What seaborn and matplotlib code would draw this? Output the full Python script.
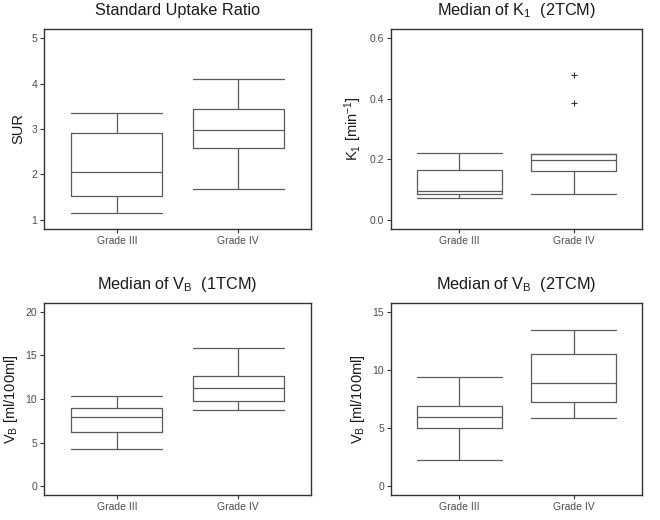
import numpy as np
import pandas as pd
import matplotlib
matplotlib.use("Agg")
import matplotlib.pyplot as plt
import seaborn as sns

sns.set_theme(style="white")
plt.rcParams["font.family"] = ["Liberation Sans", "DejaVu Sans"]
plt.rcParams["mathtext.fontset"] = "custom"
plt.rcParams["mathtext.rm"] = "Liberation Sans"
plt.rcParams["mathtext.it"] = "Liberation Sans"
plt.rcParams["mathtext.default"] = "regular"

grades = ["Grade III", "Grade IV"]

# five-number summaries [min, q1, median, q3, max]
sur_g3 = [1.15, 1.52, 2.06, 2.92, 3.35]
sur_g4 = [1.69, 2.59, 2.98, 3.43, 4.10]
k1_g3 = [0.071, 0.084, 0.094, 0.165, 0.221]
k1_g4 = [0.084, 0.162, 0.199, 0.217, 0.219]
k1_g4_outliers = [0.386, 0.478]
vb1_g3 = [4.24, 6.20, 7.92, 8.98, 10.33]
vb1_g4 = [8.76, 9.82, 11.24, 12.67, 15.88]
vb2_g3 = [2.27, 4.98, 5.94, 6.92, 9.42]
vb2_g4 = [5.83, 7.28, 8.84, 11.41, 13.44]

titles = ["Standard Uptake Ratio", "Median of K$_1$  (2TCM)",
          "Median of V$_B$  (1TCM)", "Median of V$_B$  (2TCM)"]
ylabels = ["SUR", "K$_1$ [min$^{-1}$]", "V$_B$ [ml/100ml]", "V$_B$ [ml/100ml]"]
yticks = [[1, 2, 3, 4, 5], [0.0, 0.2, 0.4, 0.6], [0, 5, 10, 15, 20], [0, 5, 10, 15]]
yticklabels = [["1", "2", "3", "4", "5"], ["0.0", "0.2", "0.4", "0.6"],
               ["0", "5", "10", "15", "20"], ["0", "5", "10", "15"]]
ylims = [(0.8, 5.2), (-0.03, 0.63), (-1, 21), (-0.75, 15.75)]

panels = [(sur_g3, sur_g4, []), (k1_g3, k1_g4, k1_g4_outliers),
          (vb1_g3, vb1_g4, []), (vb2_g3, vb2_g4, [])]

fig = plt.figure(figsize=(6.6, 5.2), dpi=100)
W, H = 660, 520
rects = [(44, 29, 311, 229), (391, 29, 642, 229),
         (44, 303, 311, 495), (391, 303, 642, 495)]

line_c = "#5a5a5a"
for i, ((g3, g4, outl), (l, t, r, b)) in enumerate(zip(panels, rects)):
    ax = fig.add_axes([l / W, 1 - b / H, (r - l) / W, (b - t) / H])
    df = pd.DataFrame({"grade": [grades[0]] * len(g3) + [grades[1]] * len(g4),
                       "value": g3 + g4})
    sns.boxplot(data=df, x="grade", y="value", order=grades, ax=ax,
                whis=np.inf, width=0.75, fill=False, color=line_c,
                linecolor=line_c, linewidth=0.9, capwidths=0.75)
    if outl:
        odf = pd.DataFrame({"grade": [grades[1]] * len(outl), "value": outl})
        sns.stripplot(data=odf, x="grade", y="value", order=grades, ax=ax,
                      jitter=False, marker="+", color="#333333", size=4,
                      linewidth=0.8)
    ax.set_xlim(-0.6, 1.6)
    ax.set_ylim(*ylims[i])
    ax.set_yticks(yticks[i])
    ax.set_yticklabels(yticklabels[i])
    ax.set_xlabel("")
    ax.set_ylabel(ylabels[i], fontsize=10.5, color="#1a1a1a")
    ax.set_title(titles[i], fontsize=11.7, color="#1a1a1a", pad=10)
    ax.tick_params(axis="both", length=3, width=0.8, color="#333333",
                   labelsize=7.5, labelcolor="#4d4d4d", direction="out",
                   bottom=True, left=True, pad=2)
    for s in ax.spines.values():
        s.set_color("#333333")
        s.set_linewidth(1.0)
        s.set_visible(True)

fig.savefig("out.png", dpi=100, facecolor="white")
